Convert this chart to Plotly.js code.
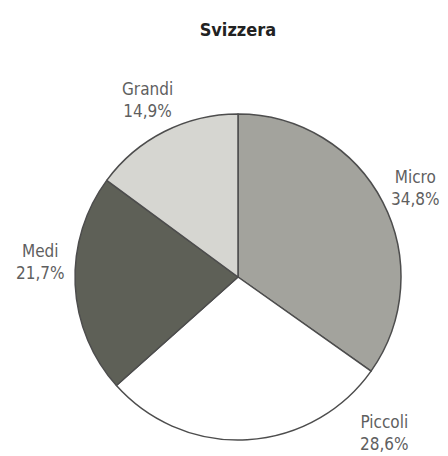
<!DOCTYPE html>
<html><head><meta charset="utf-8">
<script src="https://cdn.plot.ly/plotly-3.0.1.min.js"></script>
<style>html,body{margin:0;padding:0;background:#fff}</style>
</head><body>
<div id="chart" style="width:448px;height:456px"></div>
<script>
const categories = ["Micro", "Piccoli", "Medi", "Grandi"];
const shares = [34.8, 28.6, 21.7, 14.9];
const sliceColors = ["#a3a39d", "#ffffff", "#5e6057", "#d6d6d1"];

// label placement (paper fractions of the pie domain), kept apart from the data
const labelPos = [[1.043, 0.773], [0.948, 0.021], [-0.107, 0.546], [0.221, 1.043]];
const FONT = "DejaVu Sans Condensed, Liberation Sans Narrow, Roboto, sans-serif";

const trace = {
  type: "pie",
  labels: categories,
  values: shares,
  sort: false,
  direction: "clockwise",
  rotation: 0,
  marker: {colors: sliceColors, line: {color: "#4d4d4d", width: 1.5}},
  textinfo: "none",
  hoverinfo: "none",
  showlegend: false
};
const total = shares.reduce((a, b) => a + b, 0);
const annotations = categories.map((c, i) => ({
  xref: "paper", yref: "paper",
  x: labelPos[i][0], y: labelPos[i][1],
  xanchor: "center", yanchor: "middle",
  showarrow: false, align: "center",
  text: c + "<br>" + (shares[i] / total * 100).toFixed(1).replace(".", ",") + "%",
  font: {family: FONT, size: 17, color: "#5f5f5f"}
}));
const layout = {
  width: 448, height: 456,
  paper_bgcolor: "#fff",
  margin: {l: 75, r: 47, t: 114, b: 16},
  annotations: annotations,
  title: {text: "<b>Svizzera</b>", x: 0.531, xanchor: "center", y: 0.934, yanchor: "middle",
          font: {family: FONT, size: 18, color: "#222"}}
};
Plotly.newPlot("chart", [trace], layout, {displayModeBar: false, staticPlot: true});
</script>
</body></html>
